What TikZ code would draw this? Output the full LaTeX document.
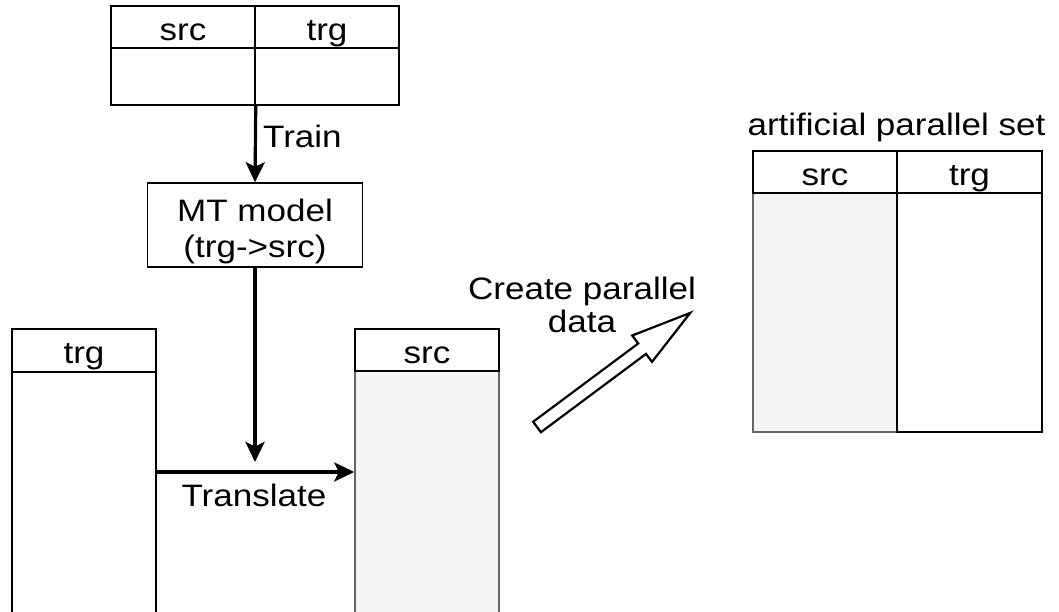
\documentclass[tikz,border=0pt]{standalone}
\usepackage{fontspec}
\setmainfont{Liberation Sans}
\usepackage{graphicx}
\usetikzlibrary{arrows.meta}
\definecolor{cellgray}{HTML}{F5F5F5}
\definecolor{edgegray}{HTML}{666666}
\newcommand{\wtxt}[1]{\scalebox{1.13}[1]{#1}}
\begin{document}
\begin{tikzpicture}[x=1pt,y=-1pt,
  txt/.style={font=\fontsize{31}{37}\selectfont, inner sep=0pt},
  cell/.style={txt, draw=black, line width=1.5pt, minimum width=144pt},
  head/.style={cell, minimum height=42pt, text height=28pt, text depth=2pt},
  graybody/.style={cell, fill=cellgray, draw=edgegray},
  flow/.style={line width=3.2pt, -{Stealth[length=20pt,width=19pt,inset=4.5pt]}},
  hollow/.style={draw=black, line width=2.2pt, fill=white, line join=miter}]
\useasboundingbox (0,0) rectangle (1059,611);
\clip (0,0) rectangle (1059,611);
\fill[white] (0,0) rectangle (1059,611);
% top table
\node[head] (t1h) at (183,27) {\wtxt{src}};
\node[head] (t2h) at (327,27) {\wtxt{trg}};
\node[cell, minimum height=57pt] (t1b) at (183,76.5) {};
\node[cell, minimum height=57pt] (t2b) at (327,76.5) {};
% MT model
\node[cell, minimum width=215pt, minimum height=84pt] (mt) at (255,225) {};
\node[txt, anchor=base] (mt1) at (255,221) {\wtxt{MT model}};
\node[txt, anchor=base] (mt2) at (255,257) {\wtxt{(trg->src)}};
\draw[flow] (t1b.south east) -- (mt.north);
\node[txt, anchor=base west] (train) at (263,147) {\wtxt{Train}};
% left table
\node[head, minimum height=43pt] (lh) at (84,350.5) {\wtxt{trg}};
\node[cell, minimum height=243pt] (lb) at (84,493.5) {};
% middle table
\node[graybody, minimum height=244pt] (mb) at (427,493) {};
\node[head] (mh) at (427,350) {\wtxt{src}};
% arrows
\coordinate (tend) at (255,462);
\draw[flow] (mt.south) -- (tend);
\draw[flow] ([yshift=21.5pt]lb.east) -- ([yshift=21pt]mb.west);
\node[txt, anchor=base] (transl) at (254,506) {\wtxt{Translate}};
% hollow arrow
\draw[hollow] (533.1,421.8) -- (638.2,343.5) -- (632.2,335.5) -- (690.2,312.9)
  -- (652.0,361.9) -- (646.0,353.9) -- (540.9,432.2) -- cycle;
\node[txt, anchor=base] (cp1) at (582,299) {\wtxt{Create parallel}};
\node[txt, anchor=base] (cp2) at (582,332) {\wtxt{data}};
% right table
\node[txt, anchor=base] (title) at (896.5,135) {\wtxt{artificial parallel set}};
\node[graybody, minimum height=239pt] (rsb) at (825,312.5) {};
\node[cell, minimum width=145pt, minimum height=239pt] (rtb) at (969.5,312.5) {};
\node[head] (rsh) at (825,172) {\wtxt{src}};
\node[head, minimum width=145pt] (rth) at (969.5,172) {\wtxt{trg}};
\end{tikzpicture}
\end{document}
